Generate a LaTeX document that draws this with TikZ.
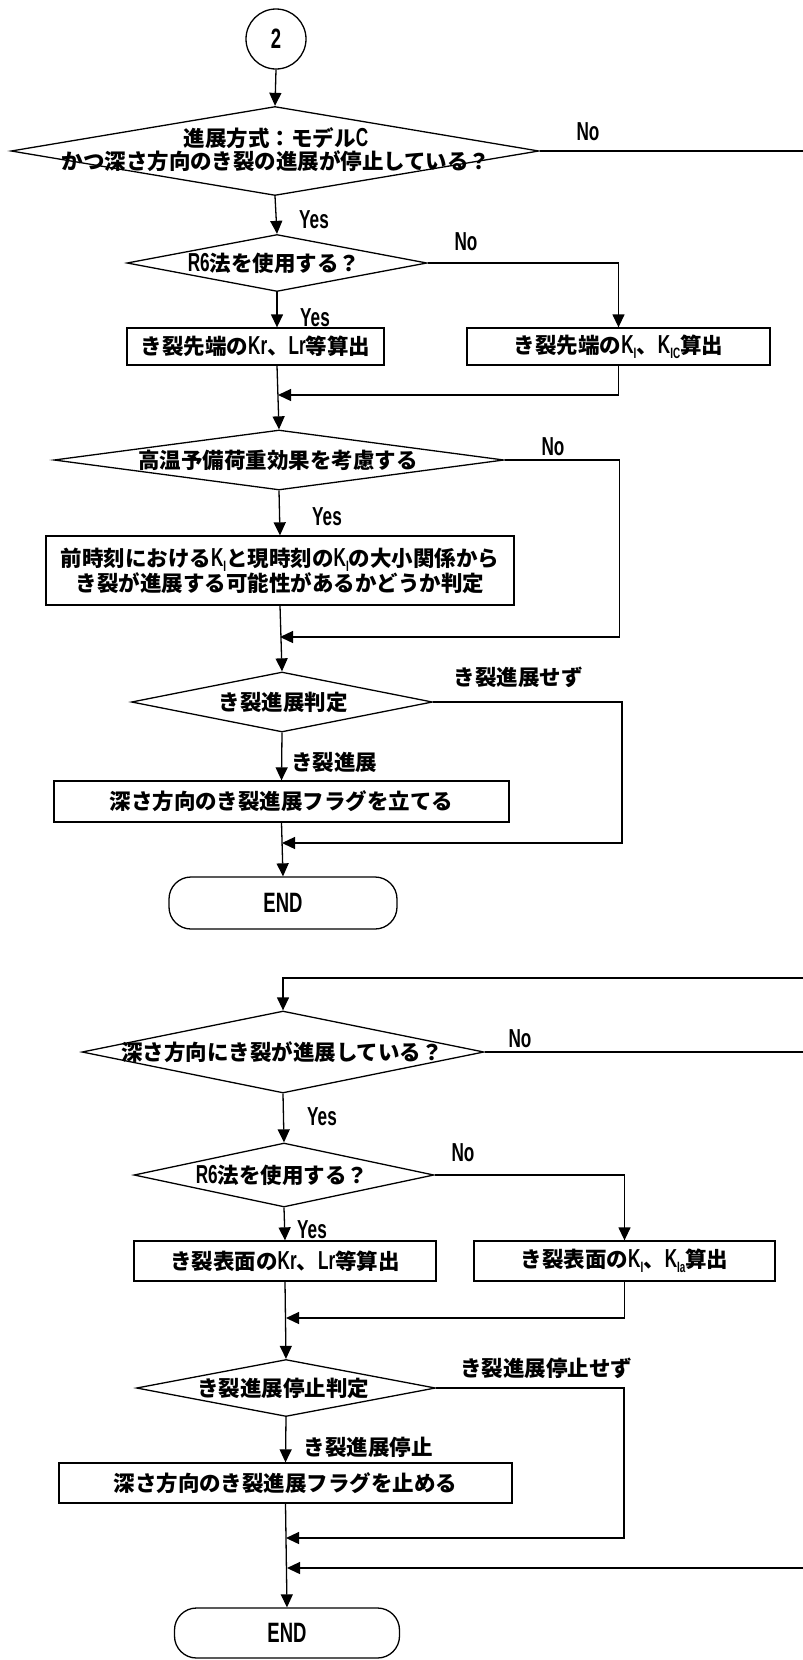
\documentclass[tikz,border=0pt]{standalone}
\usepackage{fontspec}
\setmainfont{Noto Sans CJK JP}
\newfontfamily\latf{Liberation Sans}[FakeStretch=0.66]
\usetikzlibrary{shapes.geometric,arrows.meta}
\newcommand{\lt}[1]{{\latf\bfseries\fontsize{26}{26}\selectfont #1}}
\newcommand{\termtxt}[1]{{\latf\bfseries\fontsize{28}{28}\selectfont #1}}
\newcommand{\sbs}[1]{\raisebox{-5pt}{\latf\bfseries\fontsize{15}{15}\selectfont #1}}
\begin{document}
\begin{tikzpicture}[x=1pt,y=-1pt,
  every node/.style={font=\fontsize{21.5}{23}\selectfont\bfseries},
  ln/.style={line width=1.3pt},
  arr/.style={line width=1.3pt,-{Triangle[length=13pt,width=12pt]}},
  dia/.style={draw,line width=1.3pt,shape=diamond,aspect=1,inner sep=0pt},
  box/.style={draw,line width=1.3pt,rectangle,inner sep=0pt,align=center},
  term/.style={draw,line width=1.3pt,rectangle,rounded corners=22pt,inner sep=0pt},
  lbl/.style={inner sep=0pt,align=center}
]
\useasboundingbox (0,0) rectangle (803,1660);
% ---------- upper flow ----------
\node[draw,circle,line width=1.3pt,minimum size=60pt,inner sep=0pt] (c2) at (276,39) {\termtxt{2}};
\node[dia,minimum width=528pt,minimum height=89pt] (d1) at (275,151) {};
\node[lbl] (d1t) at (276,150) {進展方式：モデル\lt{C}\\かつ深さ方向のき裂の進展が停止している？};
\node[dia,minimum width=300pt,minimum height=57pt] (d2) at (277,263) {};
\node[lbl] (d2t) at (274,263) {\lt{R6}法を使用する？};
\node[box,minimum width=257pt,minimum height=37pt] (b1) at (255.5,346.5) {き裂先端の\lt{Kr}、\lt{Lr}等算出};
\node[box,minimum width=303pt,minimum height=37pt] (b2) at (618.5,346.5) {き裂先端の\lt{K}\sbs{I}、\lt{K}\sbs{IC}算出};
\node[dia,minimum width=450pt,minimum height=60pt] (d3) at (279,460) {};
\node[lbl] (d3t) at (278,460) {高温予備荷重効果を考慮する};
\node[box,minimum width=468pt,minimum height=69pt] (b3) at (280,570.5) {前時刻における\lt{K}\sbs{I}と現時刻の\lt{K}\sbs{I}の大小関係から\\き裂が進展する可能性があるかどうか判定};
\node[dia,minimum width=301pt,minimum height=60pt] (d4) at (282,702) {};
\node[lbl] (d4t) at (283,702) {き裂進展判定};
\node[box,minimum width=455pt,minimum height=41pt] (b4) at (281.5,801.5) {深さ方向のき裂進展フラグを立てる};
\node[term,minimum width=228pt,minimum height=52pt] (e1) at (283,903) {\termtxt{END}};
% ---------- lower flow ----------
\node[dia,minimum width=402pt,minimum height=82pt] (d5) at (283,1052) {};
\node[lbl] (d5t) at (282,1052) {深さ方向にき裂が進展している？};
\node[dia,minimum width=300pt,minimum height=64pt] (d6) at (284,1175) {};
\node[lbl] (d6t) at (282,1175) {\lt{R6}法を使用する？};
\node[box,minimum width=302pt,minimum height=40pt] (b5) at (285,1261) {き裂表面の\lt{Kr}、\lt{Lr}等算出};
\node[box,minimum width=301pt,minimum height=40pt] (b6) at (624.5,1261) {き裂表面の\lt{K}\sbs{I}、\lt{K}\sbs{Ia}算出};
\node[dia,minimum width=299pt,minimum height=57pt] (d7) at (286,1388) {};
\node[lbl] (d7t) at (283,1388) {き裂進展停止判定};
\node[box,minimum width=453pt,minimum height=40pt] (b7) at (285.5,1483) {深さ方向のき裂進展フラグを止める};
\node[term,minimum width=225pt,minimum height=50pt] (e2) at (287,1633) {\termtxt{END}};
% ---------- coordinates ----------
\coordinate (r0) at (803,151);
\coordinate (m1) at (278,395);
\coordinate (n3) at (619.5,637);
\coordinate (m2) at (280,637);
\coordinate (n4) at (622,843);
\coordinate (m3) at (282,843);
\coordinate (r1) at (803,978);
\coordinate (r2) at (803,1052);
\coordinate (m4) at (286,1318);
\coordinate (n7) at (624,1538);
\coordinate (m5) at (286,1538);
\coordinate (r3) at (803,1568);
\coordinate (m6) at (287,1568);
% ---------- connectors upper ----------
\draw[arr] (c2.south) -- (d1.north);
\draw[ln] (d1.east) -- (r0);
\draw[arr] (d1.south) -- (d2.north);
\draw[arr] (d2.south) -- (d2.south |- b1.north);
\draw[arr] (d2.east) -| (b2.north);
\draw[arr] (d2.south |- b1.south) -- (d3.north);
\draw[arr] (b2.south) |- (m1);
\draw[arr] (d3.south) -- (b3.north);
\draw[arr] (d3.east) -| (n3) -- (m2);
\draw[arr] (b3.south) -- (d4.north);
\draw[arr] (d4.east) -| (n4) -- (m3);
\draw[arr] (d4.south) -- (b4.north);
\draw[arr] (b4.south) -- (e1.north);
% ---------- connectors lower ----------
\draw[arr] (r1) -| (d5.north);
\draw[ln] (d5.east) -- (r2);
\draw[arr] (d5.south) -- (d6.north);
\draw[arr] (d6.south) -- (b5.north);
\draw[arr] (d6.east) -| (b6.north);
\draw[arr] (b6.south) |- (m4);
\draw[arr] (b5.south) -- (d7.north);
\draw[arr] (d7.south) -- (b7.north);
\draw[arr] (d7.east) -| (n7) -- (m5);
\draw[arr] (r3) -- (m6);
\draw[arr] (b7.south) -- (e2.north);
% ---------- labels ----------
\node[lbl] (l1) at (588,132) {\lt{No}};
\node[lbl] (l2) at (314,220) {\lt{Yes}};
\node[lbl] (l3) at (466,242) {\lt{No}};
\node[lbl] (l4) at (315,318) {\lt{Yes}};
\node[lbl] (l5) at (553,447) {\lt{No}};
\node[lbl] (l6) at (327,517) {\lt{Yes}};
\node[lbl] (l7) at (518,677) {き裂進展せず};
\node[lbl] (l8) at (334,762) {き裂進展};
\node[lbl] (l9) at (520,1039) {\lt{No}};
\node[lbl] (l10) at (322,1117) {\lt{Yes}};
\node[lbl] (l11) at (463,1153) {\lt{No}};
\node[lbl] (l12) at (312,1230) {\lt{Yes}};
\node[lbl] (l13) at (546,1368) {き裂進展停止せず};
\node[lbl] (l14) at (368,1447) {き裂進展停止};
\end{tikzpicture}
\end{document}
